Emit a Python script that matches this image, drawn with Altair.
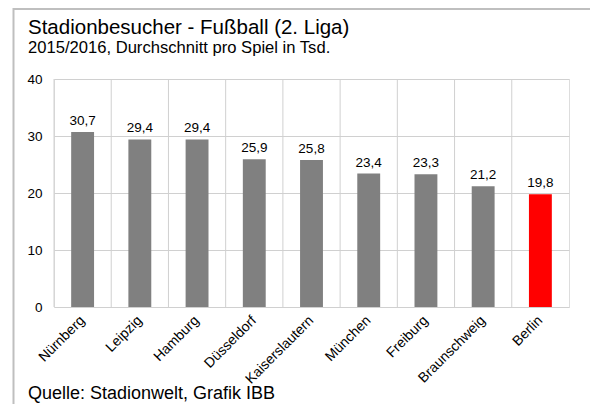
import altair as alt
import pandas as pd

teams = ["Nürnberg", "Leipzig", "Hamburg", "Düsseldorf", "Kaiserslautern",
         "München", "Freiburg", "Braunschweig", "Berlin"]
values = [30.7, 29.4, 29.4, 25.9, 25.8, 23.4, 23.3, 21.2, 19.8]
colors = ["#808080"] * 8 + ["#FF0000"]
y_ticks = [0, 10, 20, 30, 40]

title = "Stadionbesucher - Fußball (2. Liga)"
subtitle = "2015/2016, Durchschnitt  pro Spiel in Tsd."
footer = "Quelle: Stadionwelt, Grafik IBB"

FONT = "Liberation Sans"
W, H = 515, 228

df = pd.DataFrame({
    "team": teams,
    "value": values,
    "color": colors,
    "label": [f"{v:.1f}".replace(".", ",") for v in values],
})

x = alt.X("team:N", sort=teams, title=None,
          scale=alt.Scale(paddingInner=0, paddingOuter=0),
          axis=alt.Axis(labelAngle=-45, labelFontSize=14, labelColor="black",
                        labelFont=FONT, labelPadding=11, ticks=False,
                        domain=False, grid=False))
y = alt.Y("value:Q", title=None,
          scale=alt.Scale(domain=[0, 40], nice=False),
          axis=alt.Axis(values=y_ticks, labelFontSize=13.5, labelColor="black",
                        labelFont=FONT, labelPadding=12, ticks=False,
                        domain=False, grid=True, gridColor="#d0d0d0",
                        gridWidth=1))

base = alt.Chart(df)

vgrid = base.mark_rule(color="#d0d0d0", strokeWidth=1).encode(
    x=alt.X("team:N", sort=teams, bandPosition=0),
    y=alt.value(0), y2=alt.value(H))

bars = base.mark_bar(width=alt.RelativeBandSize(0.4)).encode(
    x=x, y=y, color=alt.Color("color:N", scale=None))

labels = base.mark_text(font=FONT, fontSize=13.5, color="black",
                        baseline="alphabetic", dy=-7).encode(
    x=alt.X("team:N", sort=teams), y="value:Q", text="label:N")

one = alt.Data(values=[{"a": 1}])

frame_top = alt.Chart(one).mark_rule(color="#bfbfbf", strokeWidth=2).encode(
    x=alt.value(-41), x2=alt.value(560), y=alt.value(-70))
frame_left = alt.Chart(one).mark_rule(color="#bfbfbf", strokeWidth=2).encode(
    x=alt.value(-40.5), y=alt.value(-71), y2=alt.value(325))

t1 = alt.Chart(one).mark_text(text=title, font=FONT, fontSize=20.5, align="left",
                              baseline="alphabetic", color="black").encode(
    x=alt.value(-26), y=alt.value(-45))
t2 = alt.Chart(one).mark_text(text=subtitle, font=FONT, fontSize=16.6, align="left",
                              baseline="alphabetic", color="black").encode(
    x=alt.value(-26), y=alt.value(-26))
t3 = alt.Chart(one).mark_text(text=footer, font=FONT, fontSize=18, align="left",
                              baseline="alphabetic", color="black").encode(
    x=alt.value(-26), y=alt.value(320))

chart = alt.layer(vgrid, bars, labels, frame_top, frame_left, t1, t2, t3).properties(
    width=W, height=H,
    autosize=alt.AutoSizeParams(type="none"),
    padding={"left": 46, "top": 71, "right": 21, "bottom": 97},
).configure_view(stroke="#d0d0d0", strokeWidth=1).configure(background="white")

chart.save("out.html", embed_options={"renderer": "svg", "actions": False})
